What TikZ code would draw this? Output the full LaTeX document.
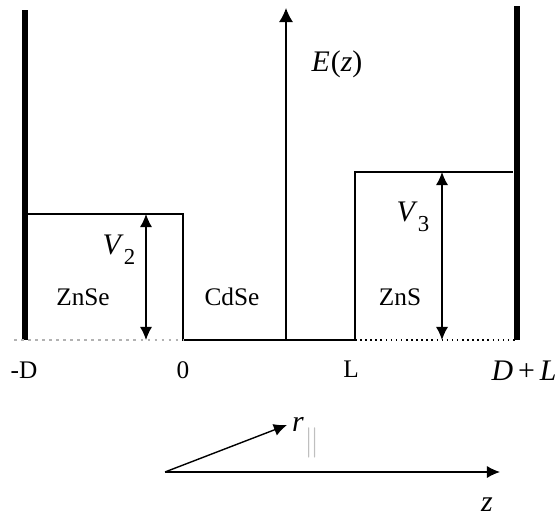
\documentclass[tikz,border=0pt]{standalone}
\usepackage{fontspec}
\setmainfont{Liberation Serif}
\usetikzlibrary{arrows.meta}

\begin{document}
\begin{tikzpicture}[x=0.02cm, y=-0.02cm,
        every node/.style={inner sep=1pt, font=\fontsize{14.4}{17}\selectfont},
        mathlab/.style={font=\fontsize{17}{20}\selectfont},
        wall/.style={line width=3.4pt},
        edge/.style={line width=0.8pt},
        >={Latex[length=7.5pt, width=7pt]}]
        \useasboundingbox (0,0) rectangle (557,516);
        % walls and energy axis
        \coordinate (wl0) at (25,340); \coordinate (wl1) at (25,10);
        \coordinate (wr0) at (517,340); \coordinate (wr1) at (517,6);
        \coordinate (e0) at (286,340); \coordinate (e1) at (286,8);
        \draw[wall] (wl0) -- (wl1);
        \draw[wall] (wr0) -- (wr1);
        \draw[edge, -{Latex[length=8pt, width=8pt]}] (e0) -- (e1);
        % potential profile
        \coordinate (b1) at (27,214); \coordinate (b2) at (183,214);
        \coordinate (o) at (183,340); \coordinate (l) at (355,340);
        \coordinate (b3) at (355,172); \coordinate (b4) at (513,172);
        \coordinate (dl) at (14,340);
        \draw[edge] (b1) -- (b2) -- (o) -- (l) -- (b3) -- (b4);
        \draw[gray!60, line width=1.2pt, dash pattern=on 1.5pt off 2.5pt] (dl) -- (o);
        \draw[line width=0.9pt, dotted] (l) -- (wr0);
        % barrier heights
        \coordinate (v2t) at (146,214); \coordinate (v2b) at (146,340);
        \coordinate (v3t) at (442,172); \coordinate (v3b) at (442,340);
        \draw[edge, <->] (v2b) -- (v2t);
        \draw[edge, <->] (v3b) -- (v3t);
        % labels
        \node[mathlab] (ez) at (337,64) {\textit{E}\kern0.5pt(\textit{z})};
        \node[mathlab] (v2) at (119,250) {\textit{V}\raisebox{-0.7ex}{\fontsize{13}{15}\selectfont 2}};
        \node[mathlab] (v3) at (413,217) {\textit{V}\raisebox{-0.7ex}{\fontsize{13}{15}\selectfont 3}};
        \node (znse) at (83,297) {ZnSe};
        \node (cdse) at (232,297) {CdSe};
        \node (zns) at (400,297) {ZnS};
        \node (md) at (24,370) {-D};
        \node (zero) at (183,370) {0};
        \node (ll) at (351,369) {L};
        \node[mathlab] (dpl) at (524,371) {\textit{D}\,+\,\textit{L}};
        % in-plane and growth directions
        \coordinate (org) at (165,472); \coordinate (rt) at (287,425);
        \coordinate (zt) at (500,472);
        \draw[edge, ->] (org) -- (rt);
        \draw[edge, ->] (org) -- (zt);
        \node[mathlab, anchor=base west] (rl) at (290,431) {\textit{r}\kern0.5pt\raisebox{-11pt}{\textcolor{gray!50}{$\Vert$}}};
        \node[mathlab] (zl) at (487,505) {\textit{z}};
    \end{tikzpicture}
\end{document}
